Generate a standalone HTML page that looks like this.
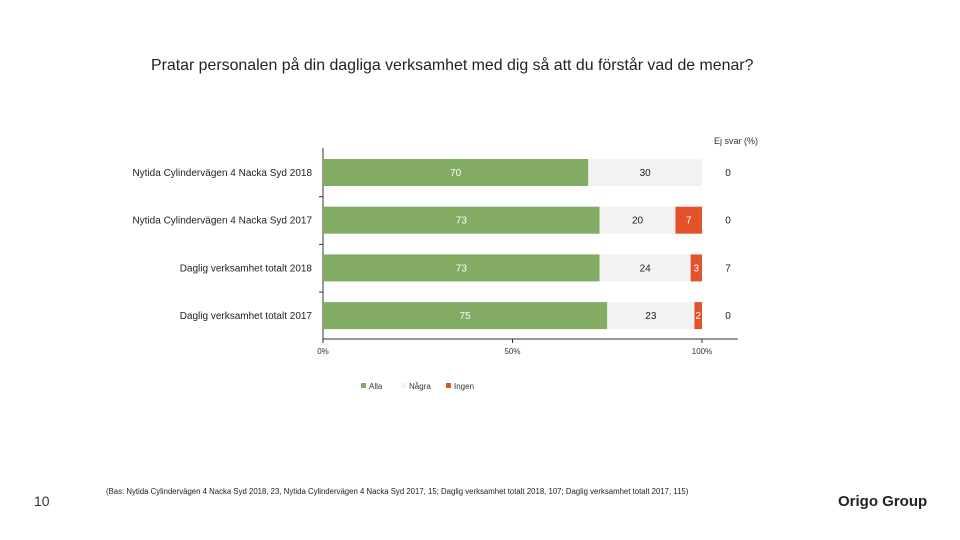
<!DOCTYPE html>
<html><head><meta charset="utf-8"><style>
body{margin:0;width:960px;height:540px;background:#fff;font-family:"Liberation Sans",sans-serif;overflow:hidden;position:relative}
.t{position:absolute;white-space:nowrap}
</style></head><body>
<div class="t" style="left:151px;top:57px;font-size:15.9px;color:#222">Pratar personalen på din dagliga verksamhet med dig så att du förstår vad de menar?</div>
<svg width="960" height="540" style="position:absolute;left:0;top:0" id="chart"></svg>
<div class="t" style="left:34px;top:493px;font-size:14px;color:#333">10</div>
<div class="t" style="left:106px;top:487px;font-size:7.8px;color:#222">(Bas: Nytida Cylindervägen 4 Nacka Syd 2018, 23, Nytida Cylindervägen 4 Nacka Syd 2017, 15; Daglig verksamhet totalt 2018, 107; Daglig verksamhet totalt 2017, 115)</div>
<div class="t" style="left:838px;top:493px;font-size:15px;font-weight:bold;color:#222">Origo Group</div>
<script>
const categories=["Nytida Cylindervägen 4 Nacka Syd 2018","Nytida Cylindervägen 4 Nacka Syd 2017","Daglig verksamhet totalt 2018","Daglig verksamhet totalt 2017"];
const alla=[70,73,73,75];
const nagra=[30,20,24,23];
const ingen=[0,7,3,2];
const ejSvar=[0,0,7,0];
const xTicks=[0,50,100];
const svg=document.getElementById('chart');
const NS='http://www.w3.org/2000/svg';
const x0=323,x1=702;
const xs=v=>x0+(x1-x0)*v/100;
const rowTop=i=>159+i*47.7;
function mk(tag,attrs,txt){const e=document.createElementNS(NS,tag);for(const k in attrs)e.setAttribute(k,attrs[k]);if(txt!==undefined)e.textContent=txt;svg.appendChild(e);return e;}
let e;
e=mk('line',{x1:x0,y1:148,x2:x0,y2:339,stroke:'#333','stroke-width':1});


e=mk('line',{x1:x0,y1:339,x2:738,y2:339,stroke:'#333','stroke-width':1});


for(let i=1;i<categories.length;i++){e=mk('line',{x1:x0-4,y1:rowTop(i)-10,x2:x0,y2:rowTop(i)-10,stroke:'#333'});

}
xTicks.forEach(t=>{e=mk('line',{x1:xs(t),y1:339,x2:xs(t),y2:343,stroke:'#333'});


e=mk('text',{x:xs(t),y:354,'font-size':8,'text-anchor':'middle',fill:'#333'},t+'%');

});
e=mk('text',{x:758,y:144,'font-size':9,'text-anchor':'end',fill:'#333'},'Ej svar (%)');


categories.forEach((c,i)=>{
 const y=rowTop(i),h=27,cy=y+h/2+3.5;
 e=mk('text',{x:312,y:cy,'font-size':10,'text-anchor':'end',fill:'#222'},c);
 
 
 const segs=[[alla[i],'#82ab64','#fff','bar-alla'],[nagra[i],'#f2f2f2','#222','bar-nagra'],[ingen[i],'#e2532b','#fff','bar-ingen']];
 let acc=0;
 segs.forEach(s=>{
  if(s[0]>0){
   e=mk('rect',{x:xs(acc),y:y,width:xs(acc+s[0])-xs(acc),height:h,fill:s[1]});
   
   
   e=mk('text',{x:(xs(acc)+xs(acc+s[0]))/2,y:cy,'font-size':10,'text-anchor':'middle',fill:s[2]},s[0]);
   
   
  }
  acc+=s[0];
 });
 e=mk('text',{x:728,y:cy,'font-size':10,'text-anchor':'middle',fill:'#222'},ejSvar[i]);
 
 
});
const legend=[['Alla','#82ab64',361],['Några','#f2f2f2',401],['Ingen','#e2532b',446]];
legend.forEach(l=>{
 e=mk('rect',{x:l[2],y:383,width:5,height:5,fill:l[1]});
 
 
 e=mk('text',{x:l[2]+8,y:389,'font-size':8,fill:'#333'},l[0]);
 
 
});
</script>
</body></html>
